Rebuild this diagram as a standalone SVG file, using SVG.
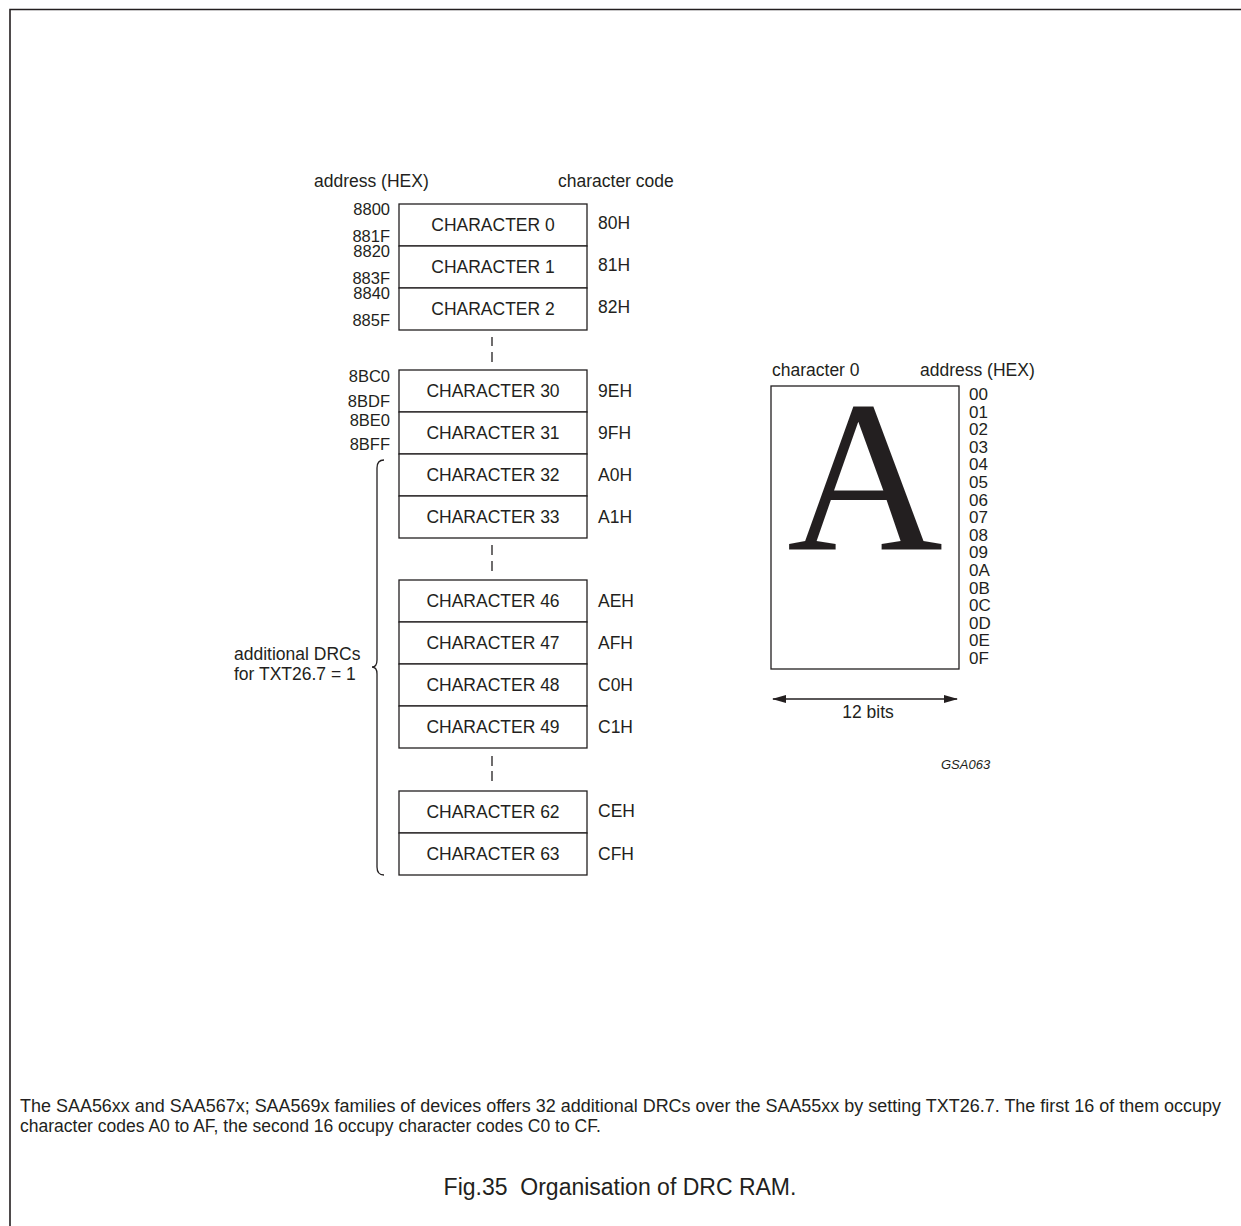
<svg xmlns="http://www.w3.org/2000/svg" width="1241" height="1226" viewBox="0 0 1241 1226">
<style>
text{font-family:"Liberation Sans",Arial,sans-serif;fill:#231f20;font-size:17.5px}
.box{fill:#fff;stroke:#231f20;stroke-width:1.3}
.lbl{text-anchor:middle}
.adr{text-anchor:end;font-size:16.5px}
.ln{stroke:#231f20;stroke-width:1.3;fill:none}
.hex{font-size:17px}
.foot{font-size:17.5px}
</style>
<defs>
<marker id="ah" viewBox="0 0 14 8" refX="13" refY="4" markerWidth="14" markerHeight="8" markerUnits="userSpaceOnUse" orient="auto-start-reverse">
<path d="M0,0 L14,4 L0,8 Z" fill="#231f20"/>
</marker>
</defs>
<rect x="0" y="0" width="1241" height="1226" fill="#fff"/>
<path d="M10,1226 L10,9.5 L1241,9.5" fill="none" stroke="#231f20" stroke-width="1.6"/>

<text x="314" y="187">address (HEX)</text>
<text x="558" y="187">character code</text>

<g id="char0"><rect class="box" x="399" y="204" width="188" height="42"/><text class="lbl" x="493" y="231">CHARACTER 0</text><text x="598" y="229">80H</text><text class="adr" x="390" y="215">8800</text><text class="adr" x="390" y="242">881F</text></g>
<g id="char1"><rect class="box" x="399" y="246" width="188" height="42"/><text class="lbl" x="493" y="273">CHARACTER 1</text><text x="598" y="271">81H</text><text class="adr" x="390" y="257">8820</text><text class="adr" x="390" y="284">883F</text></g>
<g id="char2"><rect class="box" x="399" y="288" width="188" height="42"/><text class="lbl" x="493" y="315">CHARACTER 2</text><text x="598" y="313">82H</text><text class="adr" x="390" y="299">8840</text><text class="adr" x="390" y="326">885F</text></g>

<g id="char30"><rect class="box" x="399" y="370" width="188" height="42"/><text class="lbl" x="493" y="397">CHARACTER 30</text><text x="598" y="397">9EH</text><text class="adr" x="390" y="382">8BC0</text><text class="adr" x="390" y="407">8BDF</text></g>
<g id="char31"><rect class="box" x="399" y="412" width="188" height="42"/><text class="lbl" x="493" y="439">CHARACTER 31</text><text x="598" y="439">9FH</text><text class="adr" x="390" y="426">8BE0</text><text class="adr" x="390" y="450">8BFF</text></g>
<g id="char32"><rect class="box" x="399" y="454" width="188" height="42"/><text class="lbl" x="493" y="481">CHARACTER 32</text><text x="598" y="481">A0H</text></g>
<g id="char33"><rect class="box" x="399" y="496" width="188" height="42"/><text class="lbl" x="493" y="523">CHARACTER 33</text><text x="598" y="523">A1H</text></g>

<g id="char46"><rect class="box" x="399" y="580" width="188" height="42"/><text class="lbl" x="493" y="607">CHARACTER 46</text><text x="598" y="607">AEH</text></g>
<g id="char47"><rect class="box" x="399" y="622" width="188" height="42"/><text class="lbl" x="493" y="649">CHARACTER 47</text><text x="598" y="649">AFH</text></g>
<g id="char48"><rect class="box" x="399" y="664" width="188" height="42"/><text class="lbl" x="493" y="691">CHARACTER 48</text><text x="598" y="691">C0H</text></g>
<g id="char49"><rect class="box" x="399" y="706" width="188" height="42"/><text class="lbl" x="493" y="733">CHARACTER 49</text><text x="598" y="733">C1H</text></g>

<g id="char62"><rect class="box" x="399" y="791" width="188" height="42"/><text class="lbl" x="493" y="818">CHARACTER 62</text><text x="598" y="817">CEH</text></g>
<g id="char63"><rect class="box" x="399" y="833" width="188" height="42"/><text class="lbl" x="493" y="860">CHARACTER 63</text><text x="598" y="860">CFH</text></g>

<g id="connectors">
<path class="ln" d="M492,337 V346 M492,352 V362 M492,545 V555 M492,561 V571 M492,756 V766 M492,771 V781"/>
<path class="ln" d="M384,460 Q377,460 377,468 L377,660 Q377,667 372,667 Q377,667 377,674 L377,867 Q377,875 384,875"/>
<line class="ln" x1="773" y1="699" x2="957" y2="699" marker-start="url(#ah)" marker-end="url(#ah)"/>
</g>

<g id="brace-label">
<text x="234" y="660">additional DRCs</text>
<text x="234" y="680">for TXT26.7 = 1</text>
</g>

<g id="character-matrix">
<text x="772" y="376">character 0</text>
<text x="920" y="376">address (HEX)</text>
<rect class="box" x="771" y="386" width="188" height="283"/>
<text x="865" y="549" text-anchor="middle" style="font-family:'Liberation Serif','Times New Roman',serif;font-size:216px">A</text>
<text class="hex" x="969" y="400">00</text>
<text class="hex" x="969" y="417.6">01</text>
<text class="hex" x="969" y="435.2">02</text>
<text class="hex" x="969" y="452.8">03</text>
<text class="hex" x="969" y="470.4">04</text>
<text class="hex" x="969" y="488">05</text>
<text class="hex" x="969" y="505.6">06</text>
<text class="hex" x="969" y="523.2">07</text>
<text class="hex" x="969" y="540.8">08</text>
<text class="hex" x="969" y="558.4">09</text>
<text class="hex" x="969" y="576">0A</text>
<text class="hex" x="969" y="593.6">0B</text>
<text class="hex" x="969" y="611.2">0C</text>
<text class="hex" x="969" y="628.8">0D</text>
<text class="hex" x="969" y="646.4">0E</text>
<text class="hex" x="969" y="664">0F</text>
<text x="868" y="718" text-anchor="middle">12 bits</text>
</g>

<text x="941" y="769" style="font-size:13px;font-style:italic">GSA063</text>

<text class="foot" x="20" y="1112" textLength="1201" lengthAdjust="spacingAndGlyphs">The SAA56xx and SAA567x; SAA569x families of devices offers 32 additional DRCs over the SAA55xx by setting TXT26.7. The first 16 of them occupy</text>
<text class="foot" x="20" y="1132">character codes A0 to AF, the second 16 occupy character codes C0 to CF.</text>

<text x="620" y="1195" text-anchor="middle" style="font-size:23px" xml:space="preserve">Fig.35  Organisation of DRC RAM.</text>
</svg>
